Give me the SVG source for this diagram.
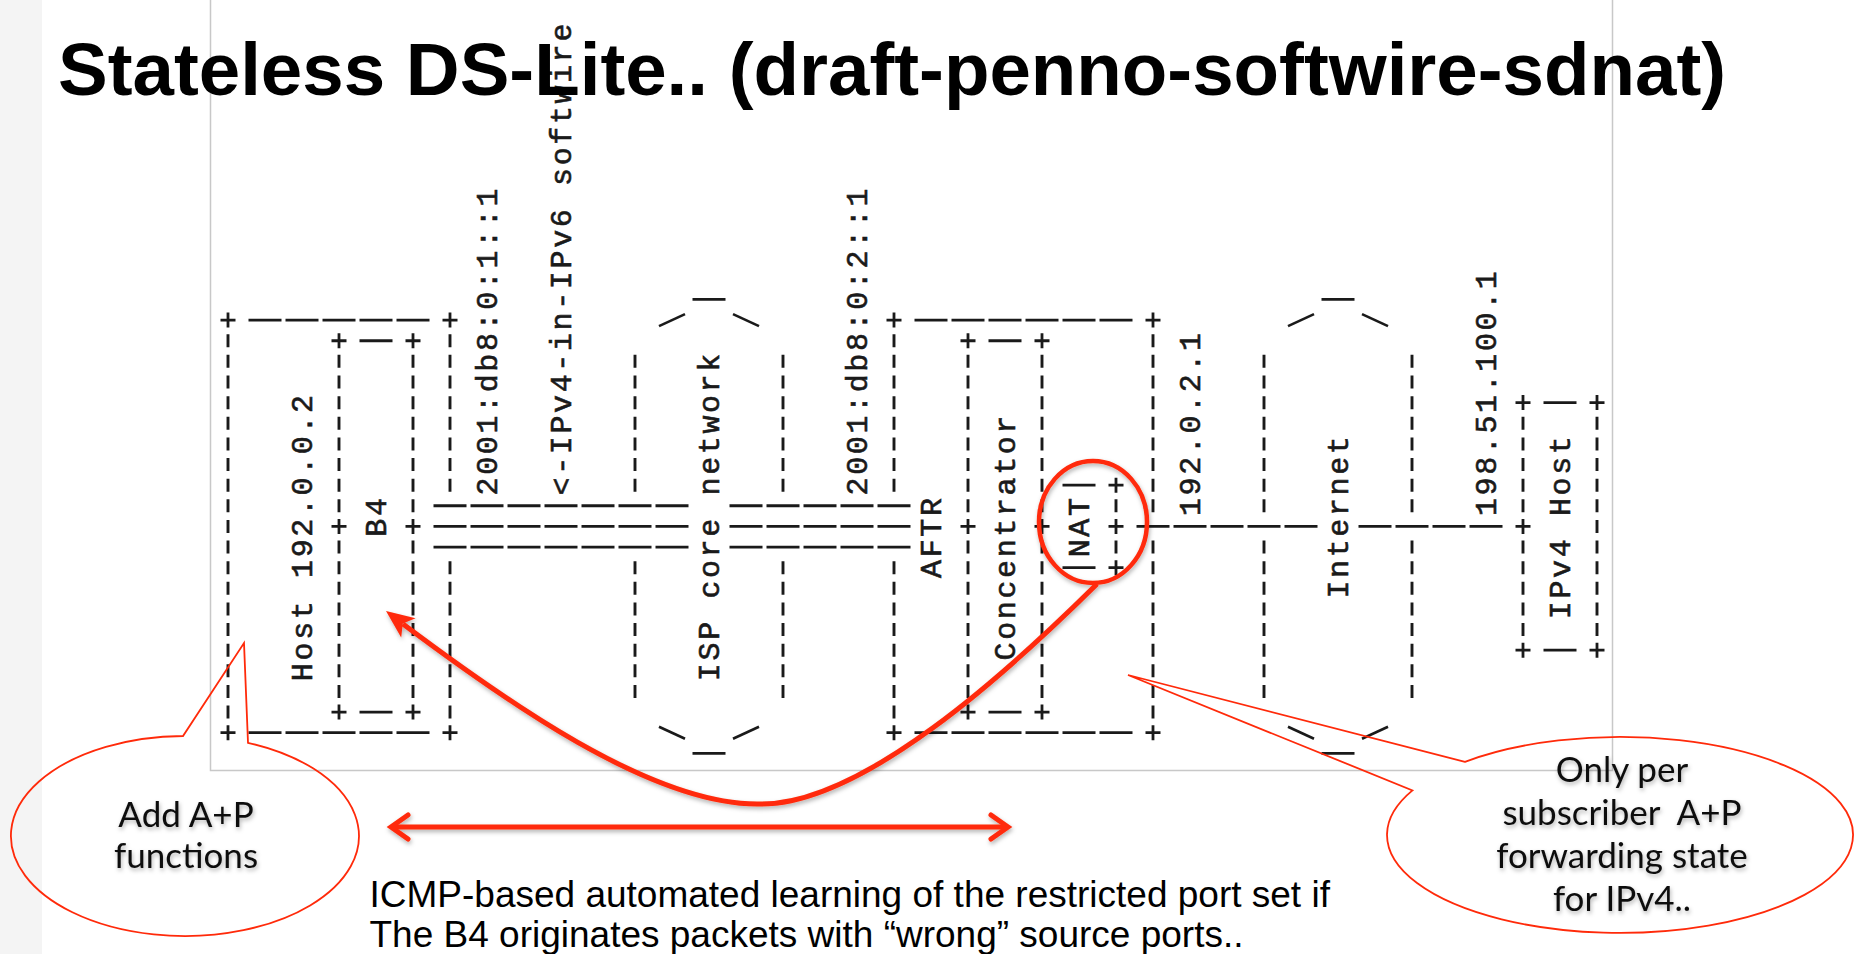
<svg xmlns="http://www.w3.org/2000/svg" xmlns:xlink="http://www.w3.org/1999/xlink" width="1854" height="954" viewBox="0 0 1854 954">
<style>
.d{stroke:#1a1a1a;stroke-width:2.9;fill:none;stroke-dasharray:0 3.815 13 3.815}
.b{stroke:#1a1a1a;stroke-width:2.8;fill:none;stroke-dasharray:0 2 33 2}
.s{stroke:#1a1a1a;stroke-width:2.6;fill:none}
.lbl{font-family:"Liberation Mono","DejaVu Sans Mono",monospace;font-size:30px;letter-spacing:2.63px;fill:#1a1a1a;stroke:#1a1a1a;stroke-width:0.6}
.red{stroke:#ff2a0a;fill:none}
.call{font-family:Lato,"Open Sans",sans-serif;font-size:35px;fill:#111;text-anchor:middle}
</style>
<defs>
<path id="p" d="M-7.5,0H7.5M0,-7.5V7.5" stroke="#1a1a1a" stroke-width="2.8" fill="none"/>
<filter id="sh" x="-10%" y="-10%" width="120%" height="140%"><feDropShadow dx="1" dy="2.5" stdDeviation="2" flood-color="#000" flood-opacity="0.3"/></filter>
</defs>
<rect x="0" y="0" width="1854" height="954" fill="#fff"/>
<rect x="0" y="0" width="42" height="954" fill="#f4f4f4"/>
<path d="M210.5,0V770.5H1612.5V0" fill="none" stroke="#c8c8c8" stroke-width="1.5"/>

<g id="host">
<line class="d" x1="228" y1="330.42" x2="228" y2="722.39"/>
<line class="d" x1="450" y1="330.42" x2="450" y2="495.46"/>
<line class="d" x1="450" y1="557.35" x2="450" y2="722.39"/>
<line class="b" x1="246.5" y1="320.1" x2="431.5" y2="320.1"/>
<line class="b" x1="246.5" y1="732.7" x2="431.5" y2="732.7"/>
<use xlink:href="#p" x="228" y="320.1"/><use xlink:href="#p" x="228" y="732.7"/>
<use xlink:href="#p" x="450" y="320.1"/><use xlink:href="#p" x="450" y="732.7"/>
<text class="lbl" transform="translate(312,681.13) rotate(-90)">Host 192.0.0.2</text>
</g>

<g id="b4">
<line class="d" x1="339" y1="536.72" x2="339" y2="701.76"/>
<line class="d" x1="339" y1="351.05" x2="339" y2="516.09"/>
<line class="d" x1="413" y1="536.72" x2="413" y2="701.76"/>
<line class="d" x1="413" y1="351.05" x2="413" y2="516.09"/>
<line class="b" x1="357.5" y1="712.07" x2="394.5" y2="712.07"/>
<line class="b" x1="357.5" y1="340.73" x2="394.5" y2="340.73"/>
<use xlink:href="#p" x="339" y="712.07"/><use xlink:href="#p" x="339" y="526.4"/><use xlink:href="#p" x="339" y="340.73"/>
<use xlink:href="#p" x="413" y="712.07"/><use xlink:href="#p" x="413" y="526.4"/><use xlink:href="#p" x="413" y="340.73"/>
<text class="lbl" transform="translate(386,536.72) rotate(-90)">B4</text>
</g>

<g id="isp-core">
<line class="d" x1="635" y1="557.35" x2="635" y2="701.76"/>
<line class="d" x1="635" y1="351.05" x2="635" y2="495.46"/>
<line class="d" x1="783" y1="557.35" x2="783" y2="701.76"/>
<line class="d" x1="783" y1="351.05" x2="783" y2="495.46"/>
<line class="s" x1="659" y1="326.1" x2="685" y2="314.1"/>
<line class="s" x1="733" y1="314.1" x2="759" y2="326.1"/>
<line class="s" x1="659" y1="726.7" x2="685" y2="738.7"/>
<line class="s" x1="733" y1="738.7" x2="759" y2="726.7"/>
<line class="b" x1="690.5" y1="299.47" x2="727.5" y2="299.47"/>
<line class="b" x1="690.5" y1="753.33" x2="727.5" y2="753.33"/>
<text class="lbl" transform="translate(719,681.13) rotate(-90)">ISP core network</text>
</g>

<g id="aftr">
<line class="d" x1="894" y1="557.35" x2="894" y2="722.39"/>
<line class="d" x1="894" y1="330.42" x2="894" y2="495.46"/>
<line class="d" x1="1153" y1="536.72" x2="1153" y2="722.39"/>
<line class="d" x1="1153" y1="330.42" x2="1153" y2="516.09"/>
<line class="b" x1="912.5" y1="320.1" x2="1134.5" y2="320.1"/>
<line class="b" x1="912.5" y1="732.7" x2="1134.5" y2="732.7"/>
<use xlink:href="#p" x="894" y="320.1"/><use xlink:href="#p" x="894" y="732.7"/>
<use xlink:href="#p" x="1153" y="320.1"/><use xlink:href="#p" x="1153" y="732.7"/>
<text class="lbl" transform="translate(941,577.98) rotate(-90)">AFTR</text>
</g>

<g id="concentrator">
<line class="d" x1="968" y1="536.72" x2="968" y2="701.76"/>
<line class="d" x1="968" y1="351.05" x2="968" y2="516.09"/>
<line class="d" x1="1042" y1="536.72" x2="1042" y2="701.76"/>
<line class="d" x1="1042" y1="351.05" x2="1042" y2="516.09"/>
<line class="b" x1="986.5" y1="712.07" x2="1023.5" y2="712.07"/>
<line class="b" x1="986.5" y1="340.73" x2="1023.5" y2="340.73"/>
<use xlink:href="#p" x="968" y="712.07"/><use xlink:href="#p" x="968" y="526.4"/><use xlink:href="#p" x="968" y="340.73"/>
<use xlink:href="#p" x="1042" y="712.07"/><use xlink:href="#p" x="1042" y="526.4"/><use xlink:href="#p" x="1042" y="340.73"/>
<text class="lbl" transform="translate(1015,660.5) rotate(-90)">Concentrator</text>
</g>

<g id="nat">
<line class="d" x1="1116" y1="536.72" x2="1116" y2="557.35"/>
<line class="d" x1="1116" y1="495.46" x2="1116" y2="516.09"/>
<use xlink:href="#p" x="1116" y="567.66"/><use xlink:href="#p" x="1116" y="526.4"/><use xlink:href="#p" x="1116" y="485.14"/>
<line class="b" x1="1060.5" y1="567.66" x2="1097.5" y2="567.66"/>
<line class="b" x1="1060.5" y1="485.14" x2="1097.5" y2="485.14"/>
<text class="lbl" transform="translate(1089,557.35) rotate(-90)">NAT</text>
</g>

<g id="internet">
<line class="d" x1="1264" y1="536.72" x2="1264" y2="701.76"/>
<line class="d" x1="1264" y1="351.05" x2="1264" y2="516.09"/>
<line class="d" x1="1412" y1="536.72" x2="1412" y2="701.76"/>
<line class="d" x1="1412" y1="351.05" x2="1412" y2="516.09"/>
<line class="s" x1="1288" y1="326.1" x2="1314" y2="314.1"/>
<line class="s" x1="1362" y1="314.1" x2="1388" y2="326.1"/>
<line class="s" x1="1288" y1="726.7" x2="1314" y2="738.7"/>
<line class="s" x1="1362" y1="738.7" x2="1388" y2="726.7"/>
<line class="b" x1="1319.5" y1="299.47" x2="1356.5" y2="299.47"/>
<line class="b" x1="1319.5" y1="753.33" x2="1356.5" y2="753.33"/>
<text class="lbl" transform="translate(1348,598.61) rotate(-90)">Internet</text>
</g>

<g id="ipv4-host">
<line class="d" x1="1523" y1="536.72" x2="1523" y2="639.87"/>
<line class="d" x1="1523" y1="412.94" x2="1523" y2="516.09"/>
<line class="d" x1="1597" y1="412.94" x2="1597" y2="639.87"/>
<use xlink:href="#p" x="1523" y="650.18"/><use xlink:href="#p" x="1523" y="526.4"/><use xlink:href="#p" x="1523" y="402.62"/>
<use xlink:href="#p" x="1597" y="650.18"/><use xlink:href="#p" x="1597" y="402.62"/>
<line class="b" x1="1541.5" y1="650.18" x2="1578.5" y2="650.18"/>
<line class="b" x1="1541.5" y1="402.62" x2="1578.5" y2="402.62"/>
<text class="lbl" transform="translate(1570,619.24) rotate(-90)">IPv4 Host</text>
</g>

<g id="connectors">
<line class="b" x1="431.5" y1="505.77" x2="690.5" y2="505.77"/>
<line class="b" x1="431.5" y1="526.4" x2="690.5" y2="526.4"/>
<line class="b" x1="431.5" y1="547.03" x2="690.5" y2="547.03"/>
<line class="b" x1="727.5" y1="505.77" x2="912.5" y2="505.77"/>
<line class="b" x1="727.5" y1="526.4" x2="912.5" y2="526.4"/>
<line class="b" x1="727.5" y1="547.03" x2="912.5" y2="547.03"/>
<line class="b" x1="1134.5" y1="526.4" x2="1319.5" y2="526.4"/>
<line class="b" x1="1356.5" y1="526.4" x2="1504.5" y2="526.4"/>
<text class="lbl" transform="translate(497,495.46) rotate(-90)">2001:db8:0:1::1</text>
<text class="lbl" transform="translate(571,495.46) rotate(-90)">&lt;-IPv4-in-IPv6 softwire</text>
<text class="lbl" transform="translate(867,495.46) rotate(-90)">2001:db8:0:2::1</text>
<text class="lbl" transform="translate(1200,516.09) rotate(-90)">192.0.2.1</text>
<text class="lbl" transform="translate(1496,516.09) rotate(-90)">198.51.100.1</text>
</g>

<text x="58" y="95" font-family="Liberation Sans,Arial,sans-serif" font-weight="bold" font-size="74.5" fill="#000">Stateless DS-Lite.. (draft-penno-softwire-sdnat)</text>

<g id="annotations" filter="url(#sh)">
<ellipse class="red" cx="1093" cy="522" rx="54" ry="61" stroke-width="4.5"/>
<path class="red" d="M1097,584 C1010,670 860,808 757,804 C650,804 503,699 403,624" stroke-width="5"/>
<polygon points="386,611 415.6,618.2 402.8,623.6 401.2,637.4" fill="#ff2a0a"/>
<line class="red" x1="393" y1="827" x2="1006" y2="827" stroke-width="5"/>
<polyline class="red" points="408,815 391,827 408,839" stroke-width="5" stroke-linecap="round"/>
<polyline class="red" points="991,815 1008,827 991,839" stroke-width="5" stroke-linecap="round"/>
</g>

<g id="callout-left">
<path class="red" stroke-width="1.8" d="M248,742.8 L244,643 L183,736 A174,100 0 1 0 248,742.8 Z"/>
<text class="call" filter="url(#sh)" x="186" y="827">Add A+P</text>
<text class="call" filter="url(#sh)" x="186" y="868">functions</text>
</g>

<g id="callout-right">
<path class="red" stroke-width="1.8" d="M1465,761.8 L1128,675 L1412.5,790.4 A233,98 0 1 0 1465,761.8 Z"/>
<g class="call" filter="url(#sh)">
<text x="1622" y="782">Only per</text>
<text x="1622" y="825" xml:space="preserve">subscriber  A+P</text>
<text x="1622" y="868">forwarding state</text>
<text x="1622" y="911">for IPv4..</text>
</g>
</g>

<g id="caption" font-family="Liberation Sans,Arial,sans-serif" font-size="37" fill="#000">
<text x="369.5" y="907">ICMP-based automated learning of the restricted port set if</text>
<text x="369.5" y="947">The B4 originates packets with “wrong” source ports..</text>
</g>
</svg>
